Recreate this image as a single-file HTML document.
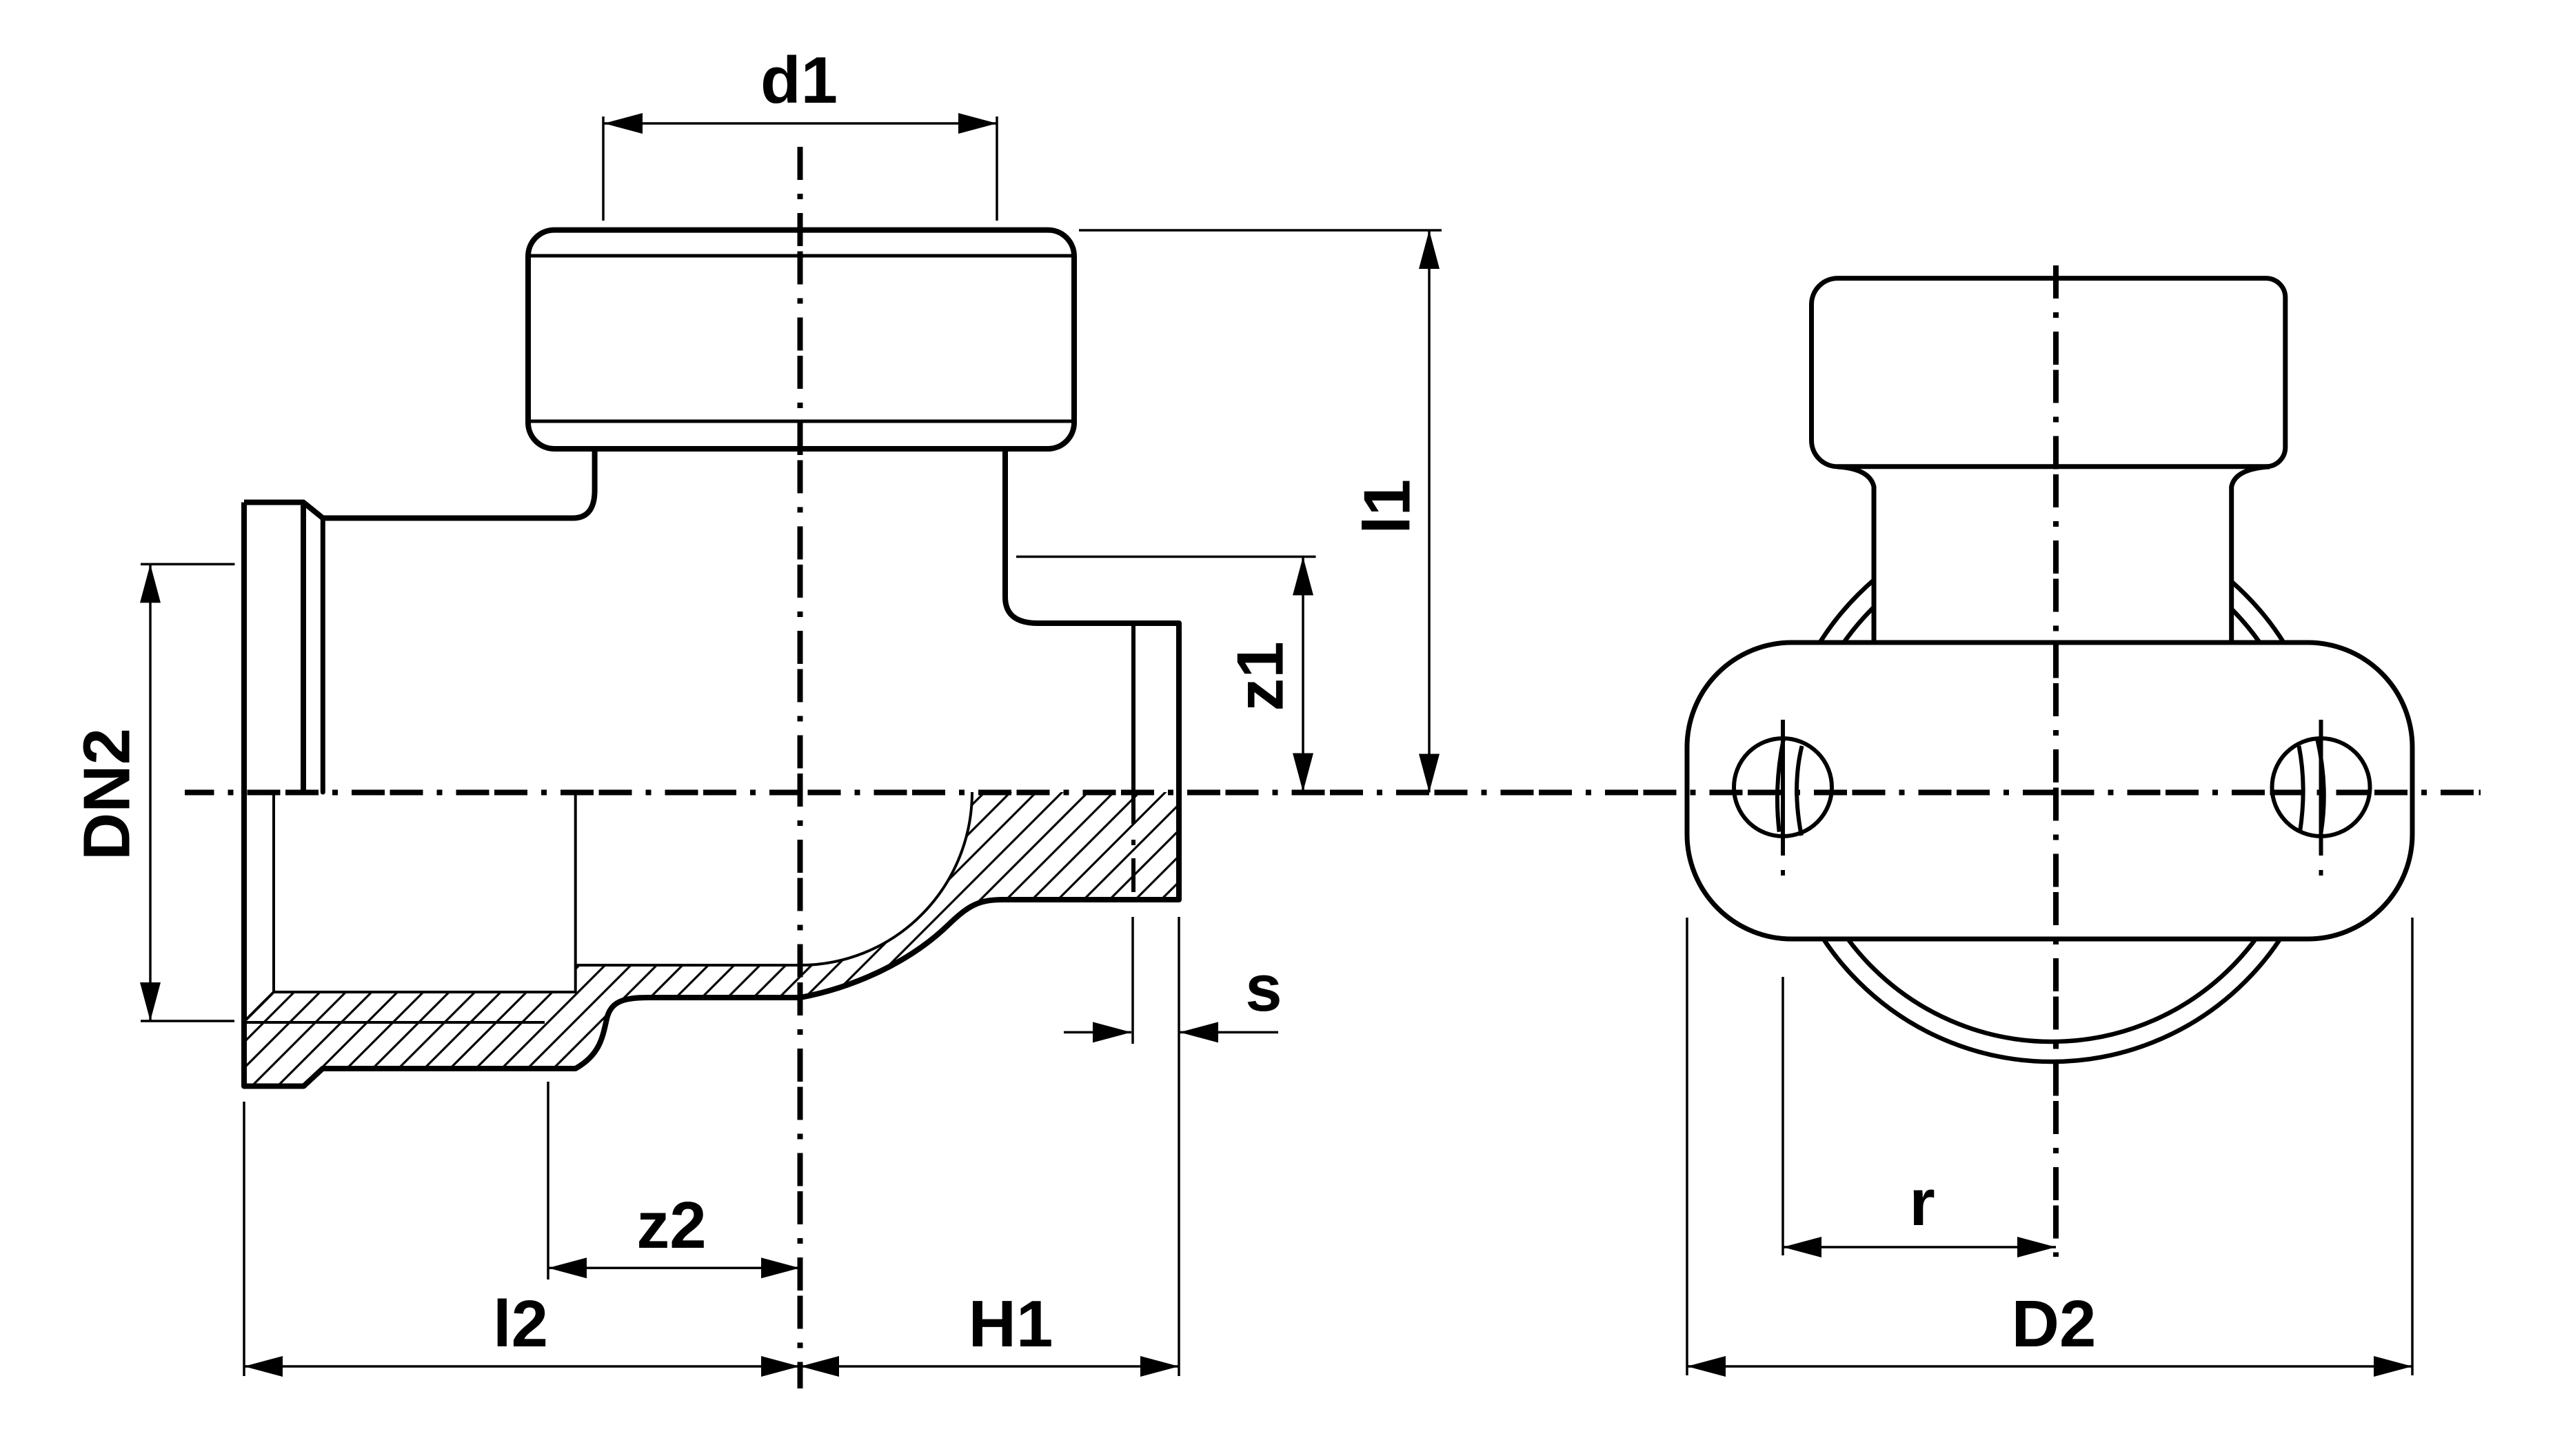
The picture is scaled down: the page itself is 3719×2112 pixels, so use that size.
<!DOCTYPE html>
<html><head><meta charset="utf-8"><style>html,body{margin:0;padding:0;background:#fff}svg{display:block}</style></head>
<body>
<svg width="3719" height="2112" viewBox="0 0 3719 2112" xmlns="http://www.w3.org/2000/svg">
<defs>
<pattern id="h" patternUnits="userSpaceOnUse" x="30.7" y="0" width="37.45" height="37.45">
<path d="M-3,40.45 L40.45,-3 M-3,3 L3,-3 M34.45,40.45 L40.45,34.45" stroke="#000" stroke-width="3.2" fill="none"/>
</pattern>
</defs>
<rect x="0" y="0" width="3719" height="2112" fill="#fff"/>

<!-- ============ LEFT VIEW ============ -->
<!-- hatched section -->
<path d="M354,1482 L397,1439 L834.7,1439 L834.7,1400 L1161,1400 A249,251 0 0 0 1410,1149 L1710,1149 L1710,1305 L1455,1305 C1420,1305 1405,1313 1375,1342 C1320,1395 1240,1432 1161,1447 L941,1447 C905,1447 886,1452 880,1478 C874,1505 870,1530 834.7,1550 L468,1550 L440.5,1575.5 L354,1575.5 Z" fill="url(#h)" stroke="none"/>

<g fill="none" stroke="#000" stroke-linejoin="round">
<!-- thin section lines -->
<g stroke-width="4">
<path d="M397,1149 L397,1439 L834.7,1439 L834.7,1149"/>
<path d="M834.7,1400 L1161,1400 A249,251 0 0 0 1410,1149"/>
<path d="M354,1483 L790,1483"/>
<path d="M354,1482 L397,1439"/>
</g>
<!-- main outline -->
<g stroke-width="8">
<path d="M354,728.6 L354,1575.5 L440.5,1575.5 L468,1550 L834.7,1550 C870,1530 874,1505 880,1478 C886,1452 905,1447 941,1447 L1161,1447 C1240,1432 1320,1395 1375,1342 C1405,1313 1420,1305 1455,1305 L1710,1305 L1710,904 L1505.6,904 Q1458,904 1458,866 L1458,651"/>
<path d="M862.6,651 L862.6,711 Q862.6,751.5 831,751.5 L468.3,751.5 L440,728.6 L354,728.6"/>
<path d="M440,728.6 L440,1149"/>
<path d="M468.3,751.5 L468.3,1149" stroke-width="7" stroke-linecap="round"/>
<!-- cap -->
<path d="M804,333.6 L1520,333.6 A38,38 0 0 1 1558,371.6 L1558,613 A38,38 0 0 1 1520,651 L804,651 A38,38 0 0 1 766,613 L766,371.6 A38,38 0 0 1 804,333.6 Z"/>
</g>
<path d="M766,371 L1558,371 M766,611 L1558,611" stroke-width="5"/>
<!-- stub inner line -->
<path d="M1644,904 L1644,1149" stroke-width="6"/>
<path d="M1644,1153 L1644,1195 M1644,1218 L1644,1226 M1644,1245 L1644,1294" stroke-width="6"/>
</g>

<!-- ============ RIGHT VIEW ============ -->
<g fill="none" stroke="#000" stroke-width="6.5">
<circle cx="2976" cy="1143" r="397"/>
<circle cx="2976" cy="1143" r="368"/>
</g>
<rect x="2718" y="676" width="518.7" height="256" fill="#fff"/>
<g fill="none" stroke="#000" stroke-width="7" stroke-linejoin="round">
<path d="M2665,677 Q2712,680 2718,706 L2718,932"/>
<path d="M3292,677 Q3242,680 3236.7,706 L3236.7,932"/>
<rect x="2447" y="932" width="1052" height="430" rx="152" ry="152" fill="#fff"/>
<path d="M2665.5,403.6 L3286.8,403.6 A28,28 0 0 1 3314.8,431.6 L3314.8,648.8 A28,28 0 0 1 3286.8,676.8 L2665.5,676.8 A38,38 0 0 1 2627.5,638.8 L2627.5,441.6 A38,38 0 0 1 2665.5,403.6 Z"/>
</g>
<g fill="none" stroke="#000" stroke-width="6">
<circle cx="2586" cy="1142" r="71"/>
<circle cx="3366.5" cy="1142" r="71"/>
<path d="M2586.8,1072.7 Q2573,1140 2580.7,1206.6"/>
<path d="M2613.6,1082 Q2599,1141 2612.9,1212"/>
<path d="M3334.5,1082 Q3346,1141 3336,1206.6"/>
<path d="M3361.3,1072.7 Q3377,1141 3366.7,1206.6"/>
<path d="M2586,1044 L2586,1241 M2586,1262 L2586,1270"/>
<path d="M3366.5,1044 L3366.5,1241 M3366.5,1262 L3366.5,1270"/>
</g>

<!-- ============ CENTERLINES ============ -->
<g fill="none" stroke="#000" stroke-width="8" stroke-dasharray="48 7.5 48 20 8 20">
<line x1="268" y1="1149.5" x2="3598" y2="1149.5" stroke-dashoffset="61"/>
<line x1="1160.5" y1="213" x2="1160.5" y2="2014" stroke-dashoffset="55.5"/>
<line x1="2982" y1="384" x2="2982" y2="1823" stroke-dashoffset="54.5"/>
</g>

<!-- ============ DIMENSIONS ============ -->
<g fill="none" stroke="#000" stroke-width="3.5">
<!-- extension lines -->
<path d="M875,169 L875,320 M1446,169 L1446,320"/>
<path d="M1565,334 L2091,334"/>
<path d="M1474,807.5 L1908.5,807.5"/>
<path d="M204,818.4 L340.5,818.4 M204,1481 L340,1481"/>
<path d="M1643,1330 L1643,1514 M1710,1330 L1710,1996"/>
<path d="M354,1598 L354,1996 M795,1569 L795,1856"/>
<path d="M2447,1331 L2447,1995 M3499,1331 L3499,1995 M2586,1417 L2586,1821"/>
<!-- dimension lines -->
<path d="M876,179 L1446,179"/>
<path d="M2073,334 L2073,1149.5"/>
<path d="M1890,807.5 L1890,1148.5"/>
<path d="M218,818.4 L218,1481"/>
<path d="M1543,1497.4 L1641,1497.4 M1711,1497.4 L1854,1497.4"/>
<path d="M795,1839.3 L1160,1839.3"/>
<path d="M354,1982 L1710,1982"/>
<path d="M2586,1809 L2982,1809"/>
<path d="M2447,1982 L3499,1982"/>
</g>
<g fill="#000" stroke="none">
<polygon points="876,179 932,164 932,194"/>
<polygon points="1446,179 1390,164 1390,194"/>
<polygon points="2073,334 2058,390 2088,390"/>
<polygon points="2073,1149.5 2058,1093.5 2088,1093.5"/>
<polygon points="1890,807.5 1875,863.5 1905,863.5"/>
<polygon points="1890,1148.5 1875,1092.5 1905,1092.5"/>
<polygon points="218,818.4 203,874.4 233,874.4"/>
<polygon points="218,1481 203,1425 233,1425"/>
<polygon points="1641,1497.4 1585,1482.4 1585,1512.4"/>
<polygon points="1711,1497.4 1767,1482.4 1767,1512.4"/>
<polygon points="795,1839.3 851,1824.3 851,1854.3"/>
<polygon points="1160,1839.3 1104,1824.3 1104,1854.3"/>
<polygon points="354,1982 410,1967 410,1997"/>
<polygon points="1160,1982 1104,1967 1104,1997"/>
<polygon points="1161,1982 1217,1967 1217,1997"/>
<polygon points="1710,1982 1654,1967 1654,1997"/>
<polygon points="2586,1809 2642,1794 2642,1824"/>
<polygon points="2982,1809 2926,1794 2926,1824"/>
<polygon points="2447,1982 2503,1967 2503,1997"/>
<polygon points="3499,1982 3443,1967 3443,1997"/>
</g>

<!-- ============ LABELS ============ -->
<g font-family="'Liberation Sans', Arial, sans-serif" font-weight="bold" font-size="96" fill="#000" text-anchor="middle">
<text x="1159" y="149">d1</text>
<text x="974" y="1810">z2</text>
<text x="755" y="1953">l2</text>
<text x="1466" y="1953">H1</text>
<text x="1833" y="1466">s</text>
<text x="2979" y="1953">D2</text>
<text x="2788" y="1777">r</text>
<text transform="translate(2044.6,735) rotate(-90)" x="0" y="0">l1</text>
<text transform="translate(1860.7,981) rotate(-90)" x="0" y="0">z1</text>
<text transform="translate(187.5,1152) rotate(-90)" x="0" y="0">DN2</text>
</g>
</svg>
</body></html>
